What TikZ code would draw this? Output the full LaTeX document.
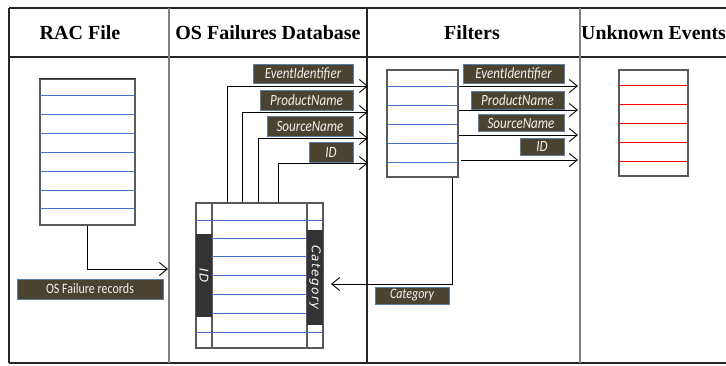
\documentclass[tikz,border=0pt]{standalone}
\usepackage{fontspec}
\usepackage{graphicx}
\setmainfont{Liberation Serif}
\newfontfamily\carl{Carlito}
\newfontfamily\dejav[LetterSpace=12]{DejaVu Sans}
\usetikzlibrary{arrows.meta}

% label text is set a little taller than wide
\newcommand\talltext[1]{\scalebox{1}[1.2]{#1}}

\definecolor{lblfill}{HTML}{4A4330}
\definecolor{lbledge}{HTML}{5B7FA6}
\definecolor{lbltext}{HTML}{F2F2F2}
\definecolor{rowblue}{HTML}{4472C4}
\definecolor{rowred}{HTML}{FF0000}
\definecolor{tabedge}{HTML}{595959}
\definecolor{bardark}{HTML}{333333}

\tikzset{
  header/.style={font=\fontsize{20}{22}\selectfont\bfseries, anchor=base, inner sep=0pt},
  colsep/.style={line width=1.6pt, draw=gray},
  colsepdark/.style={line width=1.2pt, draw=black!85},
  tablebox/.style={draw=tabedge, line width=1.1pt, inner sep=0pt},
  rowline/.style={draw=rowblue, line width=1.3pt},
  redline/.style={draw=rowred, line width=1.3pt},
  lbl/.style={fill=lblfill, draw=lbledge, line width=0.7pt, text=lbltext,
    font=\carl\itshape\fontsize{13}{14}\selectfont, inner sep=0pt},
  bar/.style={fill=bardark, draw=none, inner sep=0pt, text=white,
    font=\dejav\itshape\fontsize{12}{13}\selectfont},
  conn/.style={draw=black, line width=0.9pt,
    -{Straight Barb[length=8pt,width=13pt,line width=0.9pt]}},
}

\begin{document}
\begin{tikzpicture}[x=1pt,y=-1pt]
\useasboundingbox (0,0) rectangle (726,365);

% table frame
\draw[colsepdark] (9,8) -- (726,8);
\draw[colsepdark] (9,57) -- (726,57);
\draw[colsepdark] (9,363) -- (726,363);
\draw[colsepdark] (9,8) -- (9,363);
\draw[colsep] (169,8) -- (169,363);
\draw[colsepdark] (367,8) -- (367,363);
\draw[colsep] (580,8) -- (580,363);

% column headings
\node[header] (hRac) at (80,39) {RAC File};
\node[header] (hDb) at (268,39) {OS Failures Database};
\node[header] (hFilt) at (472,39) {Filters};
\node[header, anchor=base west, font=\fontsize{19.8}{22}\selectfont\bfseries] (hUnk) at (581,39) {Unknown Events};

% RAC file table
\node[tablebox, minimum width=95pt, minimum height=146pt] (rac) at (87.5,152) {};
\foreach \y in {95.5,114.5,133.5,152.5,171.5,190.5,208.5}
  \draw[rowline] (rac.west |- 0,\y) -- (rac.east |- 0,\y);
\draw[tabedge, line width=1.1pt] (rac.north west) rectangle (rac.south east);
\draw[black!85, line width=1.2pt] (rac.north west) -- (rac.north east);

% OS failures database table with its two side columns
\node[tablebox, minimum width=95pt, minimum height=145pt] (db) at (259.5,275.5) {};
\node[tablebox, minimum width=16pt, minimum height=145pt] (dbL) at (204,275.5) {};
\node[tablebox, minimum width=16pt, minimum height=145pt] (dbR) at (315,275.5) {};
\foreach \y in {220.5,238.5,256.5,275.5,294.5,313.5,332.5}
  \draw[rowline] (db.west |- 0,\y) -- (db.east |- 0,\y);
\foreach \y in {220.5,332.5} {
  \draw[rowline] (dbL.west |- 0,\y) -- (dbL.east |- 0,\y);
  \draw[rowline] (dbR.west |- 0,\y) -- (dbR.east |- 0,\y);
}
\draw[tabedge, line width=1.1pt] (dbL.north west) rectangle (dbR.south east);
\draw[tabedge, line width=1.1pt] (db.north west) -- (db.south west);
\draw[tabedge, line width=1.1pt] (db.north east) -- (db.south east);
\node[bar, minimum width=16pt, minimum height=83pt] (idbar) at (204,275.5) {};
\node[bar, rotate=-90] (idtext) at (idbar.center) {ID};
\node[bar, minimum width=16pt, minimum height=95pt] (catbar) at (315,277.5) {};
\node[bar, rotate=-90] (cattext) at (catbar.center) {Category};

% filters table
\node[tablebox, minimum width=71pt, minimum height=107pt] (filt) at (422.5,123.5) {};
\foreach \y in {86.5,105.5,124.5,143.5,162.5}
  \draw[rowline] (filt.west |- 0,\y) -- (filt.east |- 0,\y);
\draw[tabedge, line width=1.1pt] (filt.north west) rectangle (filt.south east);

% unknown events table
\node[tablebox, minimum width=69pt, minimum height=106pt] (unk) at (653.5,123) {};
\foreach \y in {85.5,104.5,123.5,142.5,161.5}
  \draw[redline] (unk.west |- 0,\y) -- (unk.east |- 0,\y);
\draw[tabedge, line width=1.1pt] (unk.north west) rectangle (unk.south east);

% arrow end points
\coordinate (racIn) at (168,269);
\coordinate (d1) at (368,86);
\coordinate (d2) at (368,112);
\coordinate (d3) at (368,138);
\coordinate (d4) at (368,163);
\coordinate (u1) at (578,86);
\coordinate (u2) at (578,110);
\coordinate (u3) at (578,135);
\coordinate (u4) at (578,160);
\coordinate (catIn) at (331,284);

% connectors
\draw[conn] (rac.south) |- (racIn);
\draw[conn] ([xshift=16pt]db.north west) |- (d1);
\draw[conn] ([xshift=31pt]db.north west) |- (d2);
\draw[conn] ([xshift=47pt]db.north west) |- (d3);
\draw[conn] ([xshift=67pt]db.north west) |- (d4);
\draw[conn] (filt.east |- u1) -- (u1);
\draw[conn] (filt.east |- u2) -- (u2);
\draw[conn] (filt.east |- u3) -- (u3);
\draw[conn] ([xshift=2pt]filt.east |- u4) -- (u4);
\draw[conn] ([xshift=-6pt]filt.south east) |- (catIn);

% field labels
\node[lbl, minimum width=146pt, minimum height=20pt, font=\carl\fontsize{12}{13}\selectfont] (lRec) at (90,289) {\talltext{OS Failure records}};
\node[lbl, minimum width=100pt, minimum height=19pt] (lEv1) at (303,73.5) {\talltext{EventIdentifier}};
\node[lbl, minimum width=93pt, minimum height=20pt] (lPr1) at (306.5,100) {\talltext{ProductName}};
\node[lbl, minimum width=86pt, minimum height=20pt] (lSo1) at (310,126.5) {\talltext{SourceName}};
\node[lbl, minimum width=44pt, minimum height=20pt] (lId1) at (331,152) {\talltext{ID}};
\node[lbl, minimum width=101pt, minimum height=19pt] (lEv2) at (513.5,73.5) {\talltext{EventIdentifier}};
\node[lbl, minimum width=93pt, minimum height=18pt] (lPr2) at (517.5,100) {\talltext{ProductName}};
\node[lbl, minimum width=86pt, minimum height=17pt] (lSo2) at (521,123) {\talltext{SourceName}};
\node[lbl, minimum width=44pt, minimum height=17pt] (lId2) at (542,146.5) {\talltext{ID}};
\node[lbl, minimum width=74pt, minimum height=17pt, font=\carl\itshape\fontsize{12}{13}\selectfont] (lCat) at (412,295.5) {\talltext{Category}};
\end{tikzpicture}
\end{document}
